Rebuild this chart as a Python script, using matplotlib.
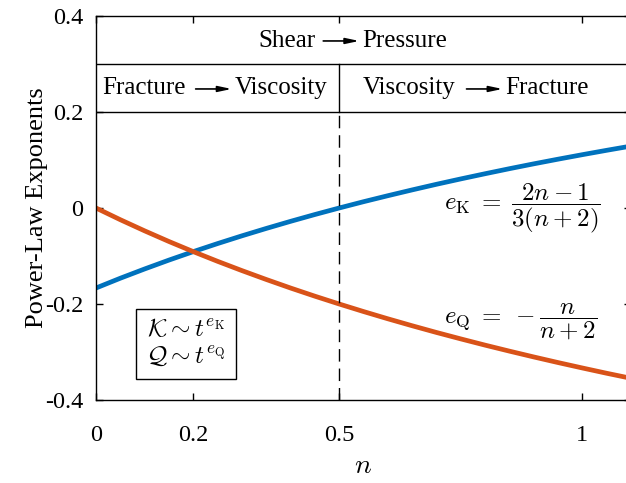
import numpy as np
import matplotlib
matplotlib.use("Agg")
import matplotlib.pyplot as plt

plt.rcParams['font.family'] = ['Liberation Serif', 'DejaVu Serif']
plt.rcParams['mathtext.fontset'] = 'cm'

# power-law index n and the two exponents
n_vals = [0.0, 0.05, 0.1, 0.15, 0.2, 0.25, 0.3, 0.35, 0.4, 0.45, 0.5, 0.55,
          0.6, 0.65, 0.7, 0.75, 0.8, 0.85, 0.9, 0.95, 1.0, 1.05, 1.1]
e_k = [-0.1667, -0.1463, -0.1270, -0.1085, -0.0909, -0.0741, -0.0580,
       -0.0426, -0.0278, -0.0136, 0.0, 0.0131, 0.0256, 0.0377, 0.0494,
       0.0606, 0.0714, 0.0819, 0.0920, 0.1017, 0.1111, 0.1202, 0.1290]
e_q = [0.0, -0.0244, -0.0476, -0.0698, -0.0909, -0.1111, -0.1304, -0.1489,
       -0.1667, -0.1837, -0.2, -0.2157, -0.2308, -0.2453, -0.2593, -0.2727,
       -0.2857, -0.2982, -0.3103, -0.3220, -0.3333, -0.3443, -0.3548]

x_ticks = [0, 0.2, 0.5, 1]
x_ticklabels = ['0', '0.2', '0.5', '1']
y_ticks = [-0.4, -0.2, 0, 0.2, 0.4]
y_ticklabels = ['-0.4', '-0.2', '0', '0.2', '0.4']

blue = '#0072BD'
orange = '#D95319'
FS = 18

fig = plt.figure(figsize=(6.26, 4.83), dpi=100)
ax = fig.add_axes([96 / 626, 83 / 483, 535 / 626, 384 / 483])

ax.plot(n_vals, e_k, color=blue, lw=3.4, solid_capstyle='butt')
ax.plot(n_vals, e_q, color=orange, lw=3.4, solid_capstyle='butt')

# regime bands at the top
ax.axhline(0.3, color='black', lw=1)
ax.axhline(0.2, color='black', lw=1)
ax.plot([0.5, 0.5], [0.2, 0.3], color='black', lw=1)
ax.plot([0.5, 0.5], [-0.4, 0.2], color='black', lw=1, dashes=(9, 5))


def arrow_label(x_left, y, y_arrow, left, right, gap=0.074):
    t1 = ax.text(x_left, y, left, fontsize=FS, va='baseline', ha='left')
    fig.canvas.draw()
    bb = t1.get_window_extent().transformed(ax.transData.inverted())
    x0 = bb.x1 + 0.004
    x1 = x0 + gap
    ax.annotate('', xy=(x1, y_arrow), xytext=(x0, y_arrow),
                arrowprops=dict(arrowstyle='-|>,head_length=0.8,head_width=0.17',
                                color='black', lw=1.2, shrinkA=0, shrinkB=0))
    ax.text(x1 + 0.006, y, right, fontsize=FS, va='baseline', ha='left')


arrow_label(0.334, 0.335, 0.348, 'Shear', 'Pressure')
arrow_label(0.012, 0.2375, 0.248, 'Fracture', 'Viscosity')
arrow_label(0.548, 0.2375, 0.248, 'Viscosity', 'Fracture')

ax.text(0.716, 0.0, r'$e_{\mathrm{K}}\; =\; \dfrac{2n-1}{3(n+2)}$', fontsize=FS,
        va='center', ha='left')
ax.text(0.716, -0.2375, r'$e_{\mathrm{Q}}\; =\; -\dfrac{n}{n+2}$', fontsize=FS,
        va='center', ha='left')

ax.text(0.185, -0.283, '$\\mathcal{K} \\sim t^{e_{\\mathrm{K}}}$\n$\\mathcal{Q} \\sim t^{e_{\\mathrm{Q}}}$',
        fontsize=FS, ha='center', va='center', linespacing=1.2,
        bbox=dict(boxstyle='square,pad=0.4', fc='white', ec='black', lw=1))

ax.set_xlim(0, 1.1)
ax.set_ylim(-0.4, 0.4)
ax.set_xticks(x_ticks)
ax.set_xticklabels(x_ticklabels)
ax.set_yticks(y_ticks)
ax.set_yticklabels(y_ticklabels)
ax.tick_params(direction='in', length=5, width=1, labelsize=17.5, top=True,
               right=True)
ax.tick_params(axis='x', pad=18)
ax.tick_params(axis='y', pad=9)
for s in ax.spines.values():
    s.set_linewidth(1)

ax.set_xlabel('$n$', fontsize=20, labelpad=6)
ax.set_ylabel('Power-Law Exponents', fontsize=19, labelpad=-2)

fig.savefig('out.png', dpi=100)
